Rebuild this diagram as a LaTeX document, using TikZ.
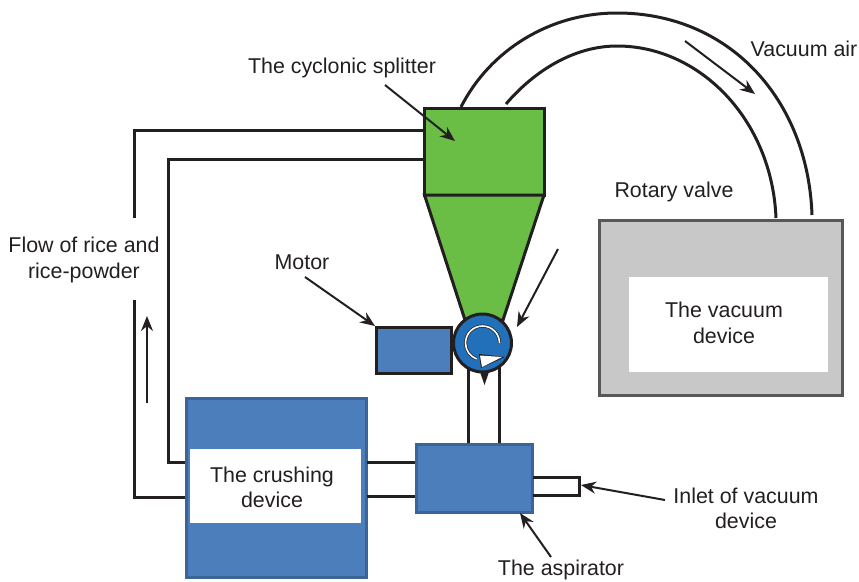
\documentclass[tikz,border=0pt]{standalone}
\usepackage{fontspec}
\setmainfont{Liberation Sans}
\usetikzlibrary{arrows.meta}
\definecolor{ink}{HTML}{231F20}
\definecolor{greenfill}{HTML}{6ABD45}
\definecolor{bluefill}{HTML}{4D7EBC}
\definecolor{blueedge}{HTML}{3A6596}
\definecolor{valveblue}{HTML}{2270B9}
\definecolor{greyfill}{HTML}{C8C8C8}
\tikzset{
  x=1pt,y=-1pt,
  pipe/.style={draw=ink,line width=3pt,line join=miter},
  box/.style={draw=ink,line width=3pt,inner sep=0pt,outer sep=0pt,rectangle},
  bluebox/.style={draw=blueedge,fill=bluefill,line width=3pt,inner sep=0pt,outer sep=0pt,rectangle},
  lbl/.style={text=ink,font=\fontsize{21.4}{25.5}\selectfont,align=center,inner sep=0pt},
  pointer/.style={draw=ink,line width=2pt,-{Stealth[length=15pt,width=12pt]}}
}
\begin{document}
\begin{tikzpicture}
\useasboundingbox (0,0) rectangle (859,581);
% free ends
\coordinate (archOutA) at (461,107);
\coordinate (archOutB) at (812,215);
\coordinate (archInA) at (506,104);
\coordinate (archInB) at (776,218);
\coordinate (flowTop1) at (134,218);
\coordinate (flowLow1) at (134,300);
\coordinate (splitL1) at (424,130.5);
\coordinate (splitL2) at (424,159);
\coordinate (crushL1) at (186,497);
\coordinate (crushL2) at (186,462.5);
% arch
\draw[pipe] (archOutA) .. controls (490,50) and (550,13) .. (617,13) .. controls (730,13) and (808,100) .. (archOutB);
\draw[pipe] (archInA) .. controls (535,70) and (575,46) .. (617,46) .. controls (700,46) and (772,120) .. (archInB);
% left piping
\draw[pipe] (flowTop1) -- (134,130.5) -- (splitL1);
\draw[pipe] (flowLow1) -- (134,497) -- (crushL1);
\draw[pipe] (crushL2) -- (168,462.5) -- (168,159) -- (splitL2);
% cyclone
\node[box,fill=greenfill,minimum width=119.5pt,minimum height=87pt] (split) at (484.25,151.5) {};
\path[fill=greenfill,draw=ink,line width=3pt,line join=miter] (split.south west) -- (split.south east) -- (503,320) -- (465,320) -- cycle;
% vacuum device
\node[box,draw=ink!75,fill=greyfill,minimum width=243pt,minimum height=175pt] (vacuum) at (720.5,307.5) {};
\node[minimum width=199pt,minimum height=95pt,fill=white,inner sep=0pt] (vacuumbg) at (728.5,324.5) {};
\node[lbl] (vacuumtext) at (724,323) {The vacuum\\device};
% pipes to aspirator
\coordinate (pipeTopL) at (468,365);
\coordinate (pipeTopR) at (499,365);
\coordinate (pipeBotL) at (468,443);
\coordinate (pipeBotR) at (499,443);
\draw[pipe] (pipeTopL) -- (pipeBotL);
\draw[pipe] (pipeTopR) -- (pipeBotR);
% small tip under valve
\fill[ink] (480,372) -- (489,372) -- (484.5,385) -- cycle;
% motor
\node[box,fill=bluefill,minimum width=75pt,minimum height=46pt] (motor) at (413.5,350) {};
% valve
\node[circle,draw=ink,fill=valveblue,line width=3pt,minimum size=58pt,inner sep=0pt,outer sep=0pt] (valve) at (482.5,343) {};
\draw[ink,line width=3pt] (499.5,343) arc[start angle=0,end angle=-250,x radius=17pt,y radius=-17pt];
\draw[white,line width=1.6pt] (499.5,343) arc[start angle=0,end angle=-250,x radius=17pt,y radius=-17pt];
\fill[ink] (479,354) -- (505,357) -- (481,368) -- cycle;
\fill[white] (480,355.5) -- (502,357) -- (482,367) -- cycle;
% crushing device
\node[bluebox,minimum width=180pt,minimum height=179pt] (crush) at (276.5,487.5) {};
\node[minimum width=171pt,minimum height=74pt,fill=white,inner sep=0pt] (crushbg) at (275.5,486) {};
\node[lbl] (crushtext) at (272,487.5) {The crushing\\device};
% aspirator links
\draw[pipe] (crush.east |- 0,462.5) -- (416,462.5);
\draw[pipe] (crush.east |- 0,496.5) -- (416,496.5);
\node[bluebox,minimum width=116pt,minimum height=68pt] (asp) at (474.5,478) {};
% inlet
\draw[pipe] (asp.east |- 0,477.5) -- (579.5,477.5) -- (579.5,495.5) -- (asp.east |- 0,495.5);
\coordinate (inletTip) at (581,485);
% labels
\node[lbl] (tsplit) at (342,68) {The cyclonic splitter};
\node[lbl] (tvac) at (804,49) {Vacuum air};
\node[lbl] (trot) at (674,192) {Rotary valve};
\node[lbl] (tflow) at (84,260) {Flow of rice and\\rice-powder};
\node[lbl] (tmotor) at (302,262) {Motor};
\node[lbl] (tinlet) at (746,508.5) {Inlet of vacuum\\device};
\node[lbl] (tasp) at (561,570) {The aspirator};
% pointers
\coordinate (p1a) at (385,85); \coordinate (p1b) at (455,141);
\coordinate (p2a) at (305,277); \coordinate (p2b) at (375,326);
\coordinate (p3a) at (558,249); \coordinate (p3b) at (517,327);
\coordinate (p4a) at (685,41); \coordinate (p4b) at (755,94);
\coordinate (p5a) at (147,403); \coordinate (p5b) at (147,316);
\coordinate (p6a) at (665,500);
\coordinate (p7a) at (551,557); \coordinate (p7b) at (520,513);
\draw[pointer] (p1a) -- (p1b);
\draw[pointer] (p2a) -- (p2b);
\draw[pointer] (p3a) -- (p3b);
\draw[pointer] (p4a) -- (p4b);
\draw[pointer] (p5a) -- (p5b);
\draw[pointer] (p6a) -- (inletTip);
\draw[pointer] (p7a) -- (p7b);
\end{tikzpicture}
\end{document}
